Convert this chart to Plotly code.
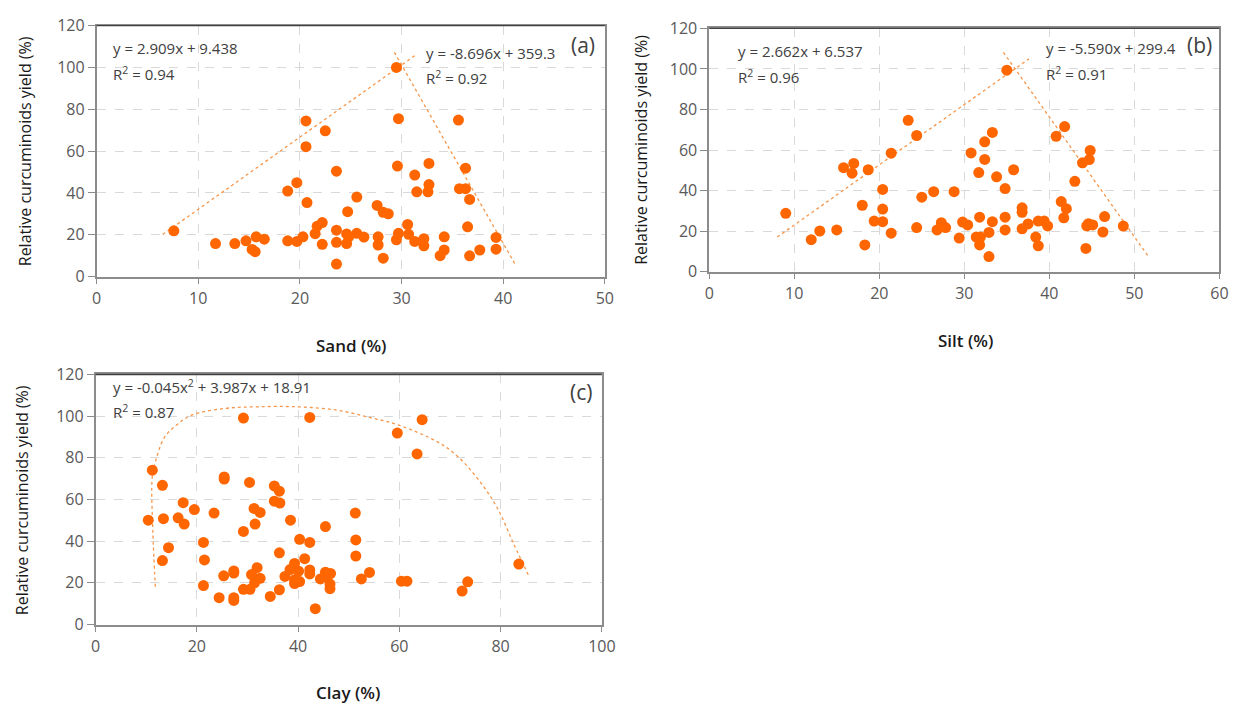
import plotly.graph_objects as go

# ---------------- data ----------------
sand_x = [7.6, 11.7, 13.6, 14.7, 15.3, 15.6, 15.7, 16.5, 18.8, 18.8,
          19.7, 19.7, 20.3, 20.6, 20.6, 20.7, 21.5, 21.7, 22.2, 22.2,
          22.5, 23.6, 23.6, 23.6, 23.6, 24.6, 24.6, 24.8, 24.7, 25.6,
          25.6, 26.3, 27.6, 27.7, 27.7, 28.2, 28.7, 28.2, 29.5, 29.7,
          29.6, 29.7, 29.5, 30.6, 30.7, 31.3, 31.3, 31.5, 32.2, 32.2,
          32.7, 32.7, 32.6, 34.2, 34.2, 33.8, 35.6, 36.3, 35.7, 36.3,
          36.7, 36.5, 36.7, 37.7, 39.3, 39.3]
sand_y = [21.9, 15.8, 15.8, 17.1, 13.0, 11.9, 19.0, 17.9, 17.1, 40.9,
          44.9, 16.8, 19.0, 74.4, 62.1, 35.4, 20.5, 24.1, 25.8, 15.4,
          69.7, 50.4, 22.2, 16.4, 6.0, 20.4, 15.8, 19.0, 31.0, 38.0,
          20.7, 18.9, 34.0, 19.0, 15.1, 30.7, 30.0, 8.8, 100.0, 75.5,
          52.8, 20.7, 17.6, 24.9, 20.2, 48.5, 16.8, 40.5, 18.1, 14.7,
          54.1, 44.0, 40.5, 19.0, 12.7, 10.0, 74.8, 51.8, 42.0, 42.0,
          36.9, 23.8, 9.9, 12.7, 18.7, 13.1]

silt_x = [9.0, 12.0, 13.0, 15.0, 15.8, 16.8, 17.0, 18.0, 18.7, 18.3,
          19.4, 20.4, 20.4, 20.4, 21.4, 21.4, 23.4, 24.4, 24.4, 25.0,
          26.4, 26.8, 27.3, 27.8, 28.8, 29.4, 29.8, 30.4, 30.8, 31.4,
          31.9, 31.8, 31.8, 31.7, 32.4, 32.4, 32.9, 32.9, 33.3, 33.3,
          33.8, 34.8, 34.8, 34.8, 35.0, 35.8, 36.8, 36.8, 36.8, 37.5,
          38.4, 38.7, 38.7, 39.4, 39.8, 40.8, 41.8, 41.4, 42.0, 41.7,
          43.0, 43.9, 44.8, 44.7, 44.3, 44.4, 44.6, 45.1, 46.5, 46.3,
          48.7]
silt_y = [28.8, 15.8, 20.1, 20.6, 51.3, 48.6, 53.4, 32.8, 50.3, 13.2,
          25.0, 40.6, 30.9, 24.7, 58.5, 19.0, 74.7, 67.2, 21.8, 36.8,
          39.5, 20.6, 24.2, 21.8, 39.5, 16.6, 24.5, 23.1, 58.6, 17.1,
          17.1, 13.2, 26.9, 48.9, 64.1, 55.4, 19.4, 7.5, 68.7, 24.7,
          46.8, 41.0, 26.9, 20.6, 99.4, 50.3, 31.5, 29.3, 21.2, 23.6,
          17.1, 12.8, 25.0, 25.0, 22.6, 66.8, 71.6, 34.6, 31.1, 26.6,
          44.6, 53.7, 59.8, 55.3, 11.5, 22.6, 23.7, 23.1, 27.2, 19.6,
          22.5]

clay_x = [10.4, 11.2, 13.2, 13.4, 13.2, 14.4, 16.3, 17.3, 17.5, 19.5,
          21.3, 21.5, 21.3, 23.4, 24.4, 25.3, 25.4, 25.4, 27.3, 27.3,
          27.3, 27.3, 29.2, 29.2, 29.2, 30.4, 30.5, 30.8, 31.3, 31.5,
          31.9, 31.4, 32.5, 32.5, 34.5, 35.3, 36.3, 35.3, 36.4, 36.3,
          36.3, 37.4, 38.5, 38.4, 39.3, 40.1, 39.3, 39.3, 40.3, 40.3,
          41.3, 42.3, 42.3, 42.3, 42.3, 43.4, 44.4, 45.4, 45.4, 46.4,
          46.3, 46.3, 45.3, 51.3, 51.4, 51.4, 52.5, 54.1, 59.6, 64.5,
          63.5, 60.4, 61.5, 72.4, 73.5, 83.6]
clay_y = [50.1, 74.1, 66.8, 50.8, 30.7, 36.9, 51.2, 58.5, 48.2, 55.2,
          39.4, 31.0, 18.7, 53.5, 12.9, 23.4, 70.8, 69.8, 25.7, 24.7,
          12.9, 11.6, 99.1, 44.7, 16.9, 68.2, 16.9, 24.0, 55.7, 48.2,
          27.3, 20.0, 53.8, 22.2, 13.5, 66.5, 64.0, 59.2, 58.3, 34.4,
          16.7, 23.1, 50.1, 26.4, 29.3, 25.6, 21.5, 19.7, 20.6, 40.9,
          31.6, 99.4, 39.4, 26.2, 24.3, 7.6, 21.9, 47.0, 25.1, 24.5,
          19.4, 17.2, 23.1, 53.5, 40.6, 32.9, 21.9, 25.0, 91.9, 98.3,
          81.9, 20.8, 20.8, 16.1, 20.5, 29.0]

# trend lines (as drawn in the reference)
sand_up_x, sand_up_y = [6.5, 31.3], [20.1, 105.6]
sand_dn_x, sand_dn_y = [29.3, 41.2], [107.2, 5.7]
silt_up_x, silt_up_y = [8.0, 37.6], [17.1, 105.0]
silt_dn_x, silt_dn_y = [34.6, 51.6], [108.2, 7.8]
clay_fit_x = [11.8, 11.3, 11.2, 11.9, 13.6, 16.1, 19.1, 25.5, 32.0, 39.8,
              47.6, 54.1, 59.9, 67.7, 71.6, 76.1, 79.4, 82.6, 85.7]
clay_fit_y = [18.1, 45.0, 71.2, 78.9, 89.8, 96.0, 100.6, 103.7, 104.5, 104.5,
              102.9, 99.4, 95.7, 87.4, 80.5, 68.0, 55.7, 38.6, 22.7]

y_ticks = [0, 20, 40, 60, 80, 100, 120]

# ---------------- styling ----------------
W, H = 1259, 716
FONT = "Open Sans"
MARK = "#FF6600"
LINE = "#F7964A"
TXT = "#404040"
TICK = "#595959"
AXC = "#8C8C8C"

fig = go.Figure()

def pts(x, y, xa, ya):
    fig.add_trace(go.Scatter(x=x, y=y, mode="markers", xaxis=xa, yaxis=ya,
                             marker=dict(color=MARK, size=11, line=dict(width=0)),
                             showlegend=False, hoverinfo="x+y"))

def ln(x, y, xa, ya, shape="linear"):
    fig.add_trace(go.Scatter(x=x, y=y, mode="lines", xaxis=xa, yaxis=ya,
                             line=dict(color=LINE, width=1.3, dash="dot", shape=shape),
                             showlegend=False, hoverinfo="skip"))

ln(sand_up_x, sand_up_y, "x", "y")
ln(sand_dn_x, sand_dn_y, "x", "y")
pts(sand_x, sand_y, "x", "y")
ln(silt_up_x, silt_up_y, "x2", "y2")
ln(silt_dn_x, silt_dn_y, "x2", "y2")
pts(silt_x, silt_y, "x2", "y2")
ln(clay_fit_x, clay_fit_y, "x3", "y3", shape="spline")
pts(clay_x, clay_y, "x3", "y3")

def xax(dom, rng, dt, anchor):
    return dict(domain=dom, range=rng, dtick=dt, tick0=0, anchor=anchor,
                showgrid=True, gridcolor="#D9D9D9", griddash="dash", gridwidth=1.2,
                zeroline=False, showline=True, linecolor=AXC, linewidth=1.5,
                mirror=True, ticks="outside", ticklen=6, tickcolor=AXC, tickwidth=1.3,
                tickfont=dict(family=FONT, size=16, color=TICK), fixedrange=True)

def yax(dom, anchor):
    return dict(domain=dom, range=[0, 120], tickvals=y_ticks, anchor=anchor,
                showgrid=True, gridcolor="#D9D9D9", griddash="dash", gridwidth=1.2,
                zeroline=False, showline=True, linecolor=AXC, linewidth=1.5,
                mirror=True, ticks="outside", ticklen=7, tickcolor=AXC, tickwidth=1.3,
                tickfont=dict(family=FONT, size=16, color=TICK), fixedrange=True)

def fx(px):
    return px / W

def fy(py):
    return 1 - py / H

fig.update_layout(
    width=W, height=H, margin=dict(l=0, r=0, t=0, b=0),
    paper_bgcolor="white", plot_bgcolor="white",
    xaxis=xax([fx(93), fx(609)], [0, 50], 10, "y"),
    yaxis=yax([fy(274), fy(15)], "x"),
    xaxis2=xax([fx(715), fx(1233)], [0, 60], 10, "y2"),
    yaxis2=yax([fy(269), fy(18)], "x2"),
    xaxis3=xax([fx(92), fx(606)], [0, 100], 20, "y3"),
    yaxis3=yax([fy(633), fy(375)], "x3"),
    font=dict(family=FONT, color=TXT),
)

# darker top border of each plot area
shapes = []
for xr, yr in (("x", "y"), ("x2", "y2"), ("x3", "y3")):
    shapes.append(dict(type="line", xref=xr + " domain", yref=yr + " domain",
                       x0=0, x1=1, y0=1, y1=1, line=dict(color="#404040", width=1.3)))
fig.update_layout(shapes=shapes)

ann = []

def txt(text, px, py, size=15, xanchor="left", angle=0, color=TXT, weight="normal"):
    ann.append(dict(text=text, x=fx(px), y=fy(py), xref="paper", yref="paper",
                    xanchor=xanchor, yanchor="middle", showarrow=False,
                    textangle=angle,
                    font=dict(family=FONT, size=size, color=color, weight=weight)))

# equations
txt("y = 2.909x + 9.438", 108, 38)
txt("R<sup>2</sup> = 0.94", 108, 64)
txt("y = -8.696x + 359.3", 425, 43)
txt("R<sup>2</sup> = 0.92", 425, 69)
txt("(a)", 573, 35, size=21)

txt("y = 2.662x + 6.537", 742, 41)
txt("R<sup>2</sup> = 0.96", 742, 68)
txt("y = -5.590x + 299.4", 1055, 38)
txt("R<sup>2</sup> = 0.91", 1055, 64)
txt("(b)", 1198, 35, size=21)

txt("y = -0.045x<sup>2</sup> + 3.987x + 18.91", 108, 387)
txt("R<sup>2</sup> = 0.87", 108, 413)
txt("(c)", 572, 393, size=21)

# axis titles
TC = "#1A1A1A"
txt("Sand (%)", 351, 345, size=17, xanchor="center", color=TC, weight=600)
txt("Silt (%)", 975, 340, size=17, xanchor="center", color=TC, weight=600)
txt("Clay (%)", 348, 703, size=17, xanchor="center", color=TC, weight=600)
ylab = "Relative curcuminoids yield (%)"
txt(ylab, 20, 145, size=16, xanchor="center", angle=-90, color=TC)
txt(ylab, 645, 143, size=16, xanchor="center", angle=-90, color=TC)
txt(ylab, 18, 505, size=16, xanchor="center", angle=-90, color=TC)

fig.update_layout(annotations=ann)

fig.write_html("out.html")
